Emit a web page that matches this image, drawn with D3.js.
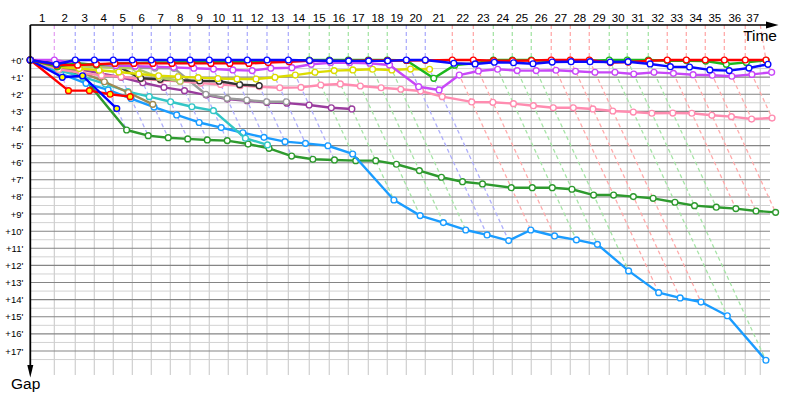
<!DOCTYPE html>
<html><head><meta charset="utf-8">
<script src="https://cdn.jsdelivr.net/npm/d3@7"></script>
<style>
body{margin:0;background:#fff}
svg{display:block}
text{font-family:"Liberation Sans",Arial,sans-serif;fill:#000}
</style>
</head><body>
<svg id="chart" width="800" height="400"></svg>
<script>
// ---------- DATA (minutes) ----------
// lap boundaries of the grid (lap 0 = start)
const lapGrid = [0, 3.04, 5.69, 8.10, 10.50, 12.91, 15.31, 17.72, 20.21, 22.65, 25.05, 27.46, 29.95,
  32.65, 35.30, 37.83, 40.24, 42.77, 45.17, 47.58, 49.98, 53.40, 56.06, 58.59, 60.99, 63.39, 65.92,
  68.33, 70.73, 73.26, 75.54, 78.20, 80.60, 83.01, 85.41, 87.82, 90.47, 92.37];
// leader's cumulative time at end of each lap
const leaderTime = [0, 3.04, 5.69, 8.10, 10.50, 12.91, 15.31, 17.72, 20.21, 22.65, 25.05, 27.46, 29.95,
  32.65, 35.30, 37.83, 40.24, 42.77, 45.17, 47.58, 49.98, 53.40, 56.06, 58.59, 60.99, 63.39, 65.92,
  68.33, 70.73, 73.26, 75.54, 78.20, 80.60, 83.01, 85.41, 87.82, 90.47, 93.09];
const lapLabels = d3.range(1, 38).map(String);
// leader of each lap (index = lap)
const lapLeader = [null, "violet",
  "blue","blue","blue","blue","blue","blue","blue","blue","blue","blue","blue","blue",
  "green","green","green","green","green", "blue","blue", "red","red",
  "green","green","green", "red","red","red", "green","green","green",
  "red","red","red","red","red","red"];
const gapTicks = d3.range(0, 18);

// gaps to leader per lap (index = lap, starting at lap 0)
const gapDarkGreen = [0, 0.45, 1.0, 4.09, 4.42, 4.54, 4.61, 4.67, 4.71, 4.91, 5.16, 5.61, 5.8, 5.84, 5.88,
  5.88, 6.09, 6.46, 6.85, 7.11, 7.24, 7.46, 7.46, 7.46, 7.55, 7.89, 7.89, 7.98, 8.08, 8.31, 8.51, 8.6, 8.68, 8.82, 8.9];
const gapLightBlue = [0, 0.8, 1.36, 1.75, 2.25, 2.75, 3.21, 3.65, 3.95, 4.25, 4.52, 4.77, 4.87, 5.01, 5.49,
  8.18, 9.09, 9.5, 9.93, 10.22, 10.55, 9.93, 10.28, 10.51, 10.77, 12.32, 13.59, 13.9, 14.14, 14.94, 17.54];
const gapCyan = [0, 0.6, 1.0, 1.4, 1.85, 2.14, 2.44, 2.73, 2.96, 4.57, 4.96];
const gapOlive = [0, 0.4, 0.68, 1.27, 1.9, 2.59];
const gapPurple = [0, 0.3, 0.55, 0.78, 1.01, 1.33, 1.6, 1.79, 2.05, 2.28, 2.38, 2.48, 2.52, 2.63, 2.79, 2.86];
const gapGray = [0, 0.3, 0.35, 0.4, 0.42, 0.45, 0.47, 0.49, 2.0, 2.24, 2.34, 2.44, 2.44];
const gapPink = [0, 0.55, 0.75, 0.9, 0.98, 1.1, 1.18, 1.25, 1.35, 1.43, 1.5, 1.56, 1.62, 1.6, 1.46, 1.4, 1.52,
  1.62, 1.71, 1.81, 2.14, 2.45, 2.47, 2.55, 2.67, 2.79, 2.79, 2.86, 2.98, 3.04, 3.11, 3.1, 3.11, 3.23, 3.31, 3.45, 3.39];
const gapBlack = [0, 0.2, 0.25, 0.28, 0.29, 1.07, 1.13, 1.18, 1.22, 1.24, 1.44, 1.5];
const gapYellowGreen = [0, 0.3, 0.35, 0.4, 0.45, 0.5, 1.02, 1.24];
const gapYellow = [0, 0.4, 0.5, 0.6, 0.7, 0.82, 0.92, 0.98, 1.03, 1.08, 1.11, 1.11, 1.01, 0.88, 0.72, 0.62,
  0.58, 0.54, 0.58, 0.53, 0.54];
const gapViolet = [0, 0, 0.22, 0.28, 0.33, 0.36, 0.39, 0.43, 0.48, 0.53, 0.58, 0.62, 0.48, 0.45, 0.25, 0.16,
  0.16, 0.19, 0.29, 1.56, 1.75, 0.88, 0.64, 0.54, 0.62, 0.62, 0.6, 0.66, 0.72, 0.72, 0.82, 0.72, 0.78, 0.86,
  0.89, 0.95, 0.84, 0.72];
const gapRedYellow = [0, 1.79, 1.79, 2.0, 2.14];
const gapBlueYellow = [0, 1.01, 0.92, 2.84];
const gapGreen = [0, 0.39, 0.19, 0.29, 0.2, 0.18, 0.15, 0.15, 0.12, 0.12, 0.1, 0.1, 0.08, 0.05, 0, 0, 0, 0, 0,
  0.03, 1.07, 0.3, 0.2, 0, 0, 0, 0.06, 0.05, 0.05, 0, 0, 0, 0.04, 0.04, 0.06, 0.25, 0.14, 0.02];
const gapRed = [0, 0.3, 0.3, 0.25, 0.2, 0.2, 0.2, 0.2, 0.2, 0.2, 0.2, 0.2, 0.15, 0.1, 0.05, 0.05, 0.05, 0.03,
  0.03, 0.03, 0.02, 0, 0, 0.04, 0.04, 0.03, 0, 0, 0, 0.15, 0.12, 0.05, 0, 0, 0, 0, 0, 0];
const gapBlue = [0, 0.25, 0, 0, 0, 0, 0, 0, 0, 0, 0, 0, 0, 0, 0.03, 0.04, 0.05, 0.05, 0.05, 0, 0, 0.19, 0.23,
  0.13, 0.16, 0.22, 0.12, 0.1, 0.1, 0.12, 0.1, 0.23, 0.39, 0.41, 0.58, 0.62, 0.47, 0.25];

// ---------- STYLE ----------
const series = [
  {gaps: gapDarkGreen, color: "#2e9a2e"},
  {gaps: gapLightBlue, color: "#1a9cff"},
  {gaps: gapCyan, color: "#33c6c6"},
  {gaps: gapOlive, color: "#a08a52"},
  {gaps: gapPurple, color: "#9a3c9e"},
  {gaps: gapGray, color: "#9a9a9a"},
  {gaps: gapPink, color: "#ff8cb0"},
  {gaps: gapBlack, color: "#333333"},
  {gaps: gapYellowGreen, color: "#b2cc62"},
  {gaps: gapYellow, color: "#dcdc00"},
  {gaps: gapViolet, color: "#c848f8"},
  {gaps: gapRedYellow, color: "#ff0000", hi: 99},
  {gaps: gapBlueYellow, color: "#0000ff", hi: 99},
  {gaps: gapGreen, color: "#1cb81c", hi: 3},
  {gaps: gapRed, color: "#ff0000"},
  {gaps: gapBlue, color: "#0a0aff"}
];
const leaderDash = {blue: "#aeaefc", green: "#a6e4a6", red: "#ffaaaa", violet: "#e6a4f2"};

// ---------- SCALES ----------
const svg = d3.select("#chart");
const x = d3.scaleLinear().domain([0, 93.6]).range([30.3, 770]);
const y = d3.scaleLinear().domain([0, 17]).range([60, 351]);
const axisTop = 25, gridBottom = 375;

// ---------- GRID ----------
const grid = svg.append("g");
grid.selectAll(".minor").data(d3.range(0.5, 18, 1)).join("line")
  .attr("x1", x(0)).attr("x2", x(93.6)).attr("y1", d => y(d)).attr("y2", d => y(d))
  .attr("stroke", "#d2d2d2").attr("stroke-width", 1);
grid.selectAll(".vert").data(lapGrid.slice(1)).join("line")
  .attr("x1", d => x(d)).attr("x2", d => x(d)).attr("y1", y(0)).attr("y2", gridBottom)
  .attr("stroke", "#cfcfcf").attr("stroke-width", 1.2);
grid.selectAll(".major").data(gapTicks).join("line")
  .attr("x1", x(0)).attr("x2", x(93.6)).attr("y1", d => y(d)).attr("y2", d => y(d))
  .attr("stroke", "#858585").attr("stroke-width", 1.1);

// ---------- LAP LINES (dashed) ----------
const maxGap = lapGrid.map((_, k) => d3.max(series, s => s.gaps[k] !== undefined ? s.gaps[k] : 0));
const dash = svg.append("g");
d3.range(1, lapGrid.length).forEach(k => {
  const G = maxGap[k];
  dash.append("path")
    .attr("d", `M${x(lapGrid[k])},${axisTop}L${x(leaderTime[k])},${y(0)}L${x(leaderTime[k] + G)},${y(G)}`)
    .attr("fill", "none").attr("stroke", leaderDash[lapLeader[k]])
    .attr("stroke-width", 1.3).attr("stroke-dasharray", "4,3");
});

// ---------- SERIES ----------
const line = d3.line().x(d => x(d.t)).y(d => y(d.g));
series.forEach(s => {
  const pts = s.gaps.map((g, k) => ({k, g, t: leaderTime[k] + g}));
  const g = svg.append("g");
  g.append("path").datum(pts).attr("d", line)
    .attr("fill", "none").attr("stroke", s.color).attr("stroke-width", 2.4)
    .attr("stroke-linejoin", "round");
  g.selectAll("circle").data(pts).join("circle")
    .attr("cx", d => x(d.t)).attr("cy", d => y(d.g)).attr("r", 2.9)
    .attr("fill", d => (s.hi !== undefined && d.k <= s.hi && d.k > 0) ? "#ffff00" : "#ffffff")
    .attr("stroke", s.color).attr("stroke-width", 1.4);
});

// ---------- AXES ----------
const yAxis = d3.axisLeft(y).tickValues(gapTicks).tickFormat(d => `+${d}'`).tickSize(0).tickPadding(7);
const ya = svg.append("g").attr("transform", `translate(${x(0)},0)`).call(yAxis);
ya.select(".domain").remove();
ya.selectAll("text").attr("font-family", "Liberation Sans, Arial, sans-serif").attr("font-size", 9.5).attr("fill", "#000");

svg.append("g").selectAll("text").data(lapLabels).join("text")
  .attr("x", (d, i) => x((lapGrid[i] + lapGrid[i + 1]) / 2))
  .attr("y", 21.5).attr("text-anchor", "middle").attr("font-size", 11.5)
  .text(d => d);

svg.append("line").attr("x1", x(0)).attr("x2", 767).attr("y1", axisTop).attr("y2", axisTop)
  .attr("stroke", "#000").attr("stroke-width", 1.6);
svg.append("path").attr("d", `M766,${axisTop - 3.5}L778.5,${axisTop}L766,${axisTop + 3.5}Z`).attr("fill", "#000");
svg.append("line").attr("x1", x(0)).attr("x2", x(0)).attr("y1", axisTop).attr("y2", 366)
  .attr("stroke", "#000").attr("stroke-width", 1.8);
svg.append("path").attr("d", `M${x(0) - 3},365L${x(0)},377.5L${x(0) + 3},365Z`).attr("fill", "#000");

svg.append("text").attr("x", 777).attr("y", 40.5).attr("text-anchor", "end").attr("font-size", 15.5).text("Time");
svg.append("text").attr("x", 11).attr("y", 389).attr("font-size", 15.5).text("Gap");
</script>
</body></html>
